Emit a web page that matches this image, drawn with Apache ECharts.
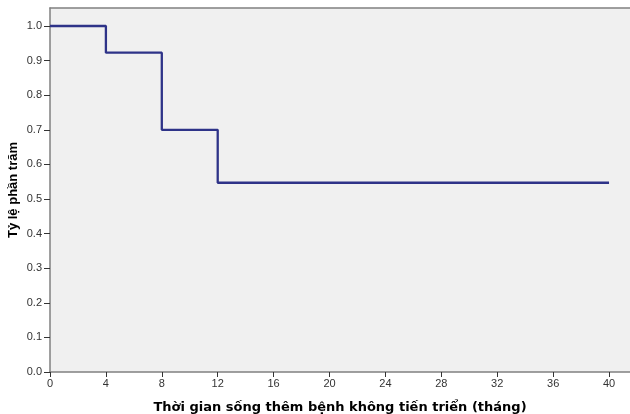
<!DOCTYPE html>
<html>
<head>
<meta charset="utf-8">
<script src="https://cdn.jsdelivr.net/npm/echarts@6/dist/echarts.min.js"></script>
<style>html,body{margin:0;padding:0;background:#fff;}#c{width:630px;height:414px;}</style>
</head>
<body>
<div id="c"></div>
<script>
var times = [0, 4, 8, 12, 40];
var survival = [1.0, 0.923, 0.7, 0.547, 0.547];
var xTicks = [0, 4, 8, 12, 16, 20, 24, 28, 32, 36, 40];
var yTicks = [0, 0.1, 0.2, 0.3, 0.4, 0.5, 0.6, 0.7, 0.8, 0.9, 1.0];
var xTitle = 'Thời gian sống thêm bệnh không tiến triển (tháng)';
var yTitle = 'Tỷ lệ phần trăm';

var chart = echarts.init(document.getElementById('c'), null, {renderer: 'canvas'});
var pts = times.map(function (t, i) { return [t, survival[i]]; });
var labelStyle = {color: '#333', fontSize: 11, fontFamily: 'Liberation Sans, Arial, sans-serif'};
chart.setOption({
  animation: false,
  grid: {left: 50, top: 8, right: 0, bottom: 42, show: true, backgroundColor: '#f0f0f0', borderWidth: 0,
         containLabel: false, outerBoundsMode: 'none'},
  xAxis: [{
    type: 'value', min: 0, max: 41.5, position: 'bottom',
    name: xTitle, nameLocation: 'middle', nameGap: 29, nameMoveOverlap: false,
    nameTextStyle: {fontFamily: 'DejaVu Sans', fontWeight: 'bold', fontSize: 13, color: '#000'},
    axisLine: {show: true, lineStyle: {color: '#808080', width: 1.5}},
    axisTick: {show: true, length: 5, customValues: xTicks, lineStyle: {color: '#333'}},
    axisLabel: Object.assign({customValues: xTicks, margin: 6}, labelStyle),
    splitLine: {show: false}
  }, {
    type: 'value', min: 0, max: 41.5, position: 'top',
    axisLine: {show: true, onZero: false, lineStyle: {color: '#808080', width: 1.5}},
    axisTick: {show: false}, axisLabel: {show: false}, splitLine: {show: false}
  }],
  yAxis: {
    type: 'value', min: 0, max: 1.052,
    name: yTitle, nameLocation: 'middle', nameGap: 30, nameRotate: 90, nameMoveOverlap: false,
    nameTextStyle: {fontFamily: 'Liberation Sans, Arial, sans-serif', fontWeight: 'bold', fontSize: 13, color: '#000'},
    axisLine: {show: true, lineStyle: {color: '#808080', width: 1.5}},
    axisTick: {show: true, length: 6, customValues: yTicks, lineStyle: {color: '#333'}},
    axisLabel: Object.assign({customValues: yTicks, margin: 8, formatter: function (v) { return v.toFixed(1); }}, labelStyle),
    splitLine: {show: false}
  },
  series: [{
    type: 'line', step: 'end', data: pts, xAxisIndex: 0,
    symbol: 'none', lineStyle: {color: '#2e3388', width: 2.3}
  }]
});
</script>
</body>
</html>
